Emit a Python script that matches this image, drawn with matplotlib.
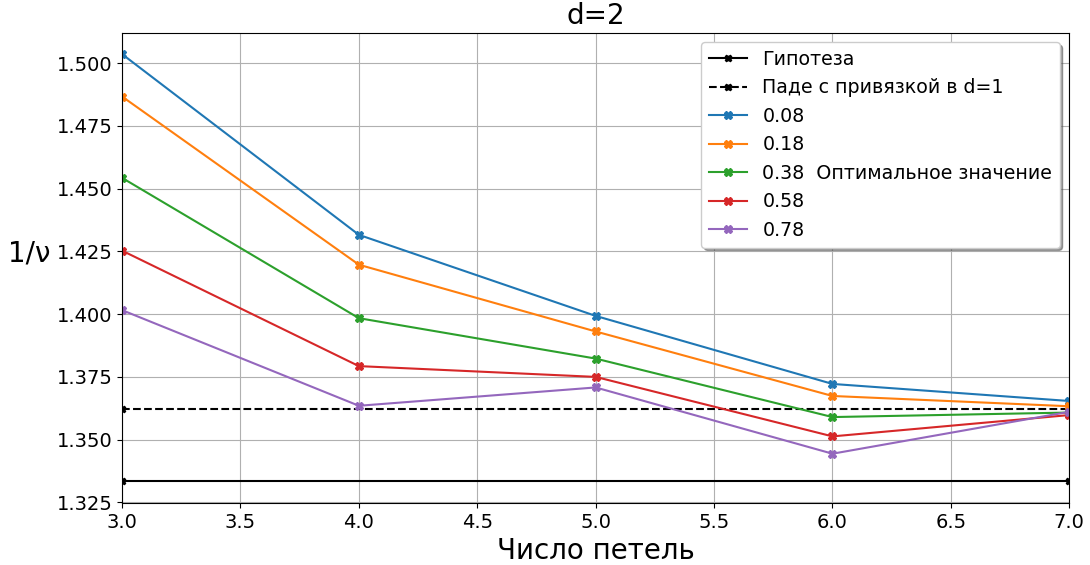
import matplotlib
matplotlib.use("Agg")
import matplotlib.pyplot as plt

loops = [3, 4, 5, 6, 7]
hypothesis = [4 / 3, 4 / 3]
pade_d1 = [1.3624, 1.3624]
ends = [3, 7]

series_labels = ["0.08", "0.18", "0.38  Оптимальное значение", "0.58", "0.78"]
vals_008 = [1.5036, 1.4316, 1.3993, 1.3722, 1.3654]
vals_018 = [1.4867, 1.4197, 1.3931, 1.3674, 1.3633]
vals_038 = [1.4543, 1.3984, 1.3823, 1.3590, 1.3608]
vals_058 = [1.4253, 1.3793, 1.3750, 1.3513, 1.3598]
vals_078 = [1.4016, 1.3635, 1.3708, 1.3444, 1.3611]
series = [vals_008, vals_018, vals_038, vals_058, vals_078]

fig = plt.figure(figsize=(10.9, 5.65), dpi=100)
ax = fig.add_axes([0.112, 0.110, 0.869, 0.832])

ax.plot(ends, hypothesis, "k-", marker="X", markersize=5, label="Гипотеза")
ax.plot(ends, pade_d1, "k--", marker="X", markersize=5, label="Паде с привязкой в d=1")
for lab, vals in zip(series_labels, series):
    ax.plot(loops, vals, marker="X", markersize=6, label=lab)

ax.set_xlim(3, 7)
ax.grid(True)
ax.tick_params(labelsize=14)
ax.set_title("d=2", fontsize=20)
ax.set_xlabel("Число петель", fontsize=20)
ax.set_ylabel("1/ν", fontsize=20, rotation=0, labelpad=20)
ax.legend(loc="upper right", fontsize=13.7, shadow=True, framealpha=1)

fig.savefig("out.png", dpi=100)
